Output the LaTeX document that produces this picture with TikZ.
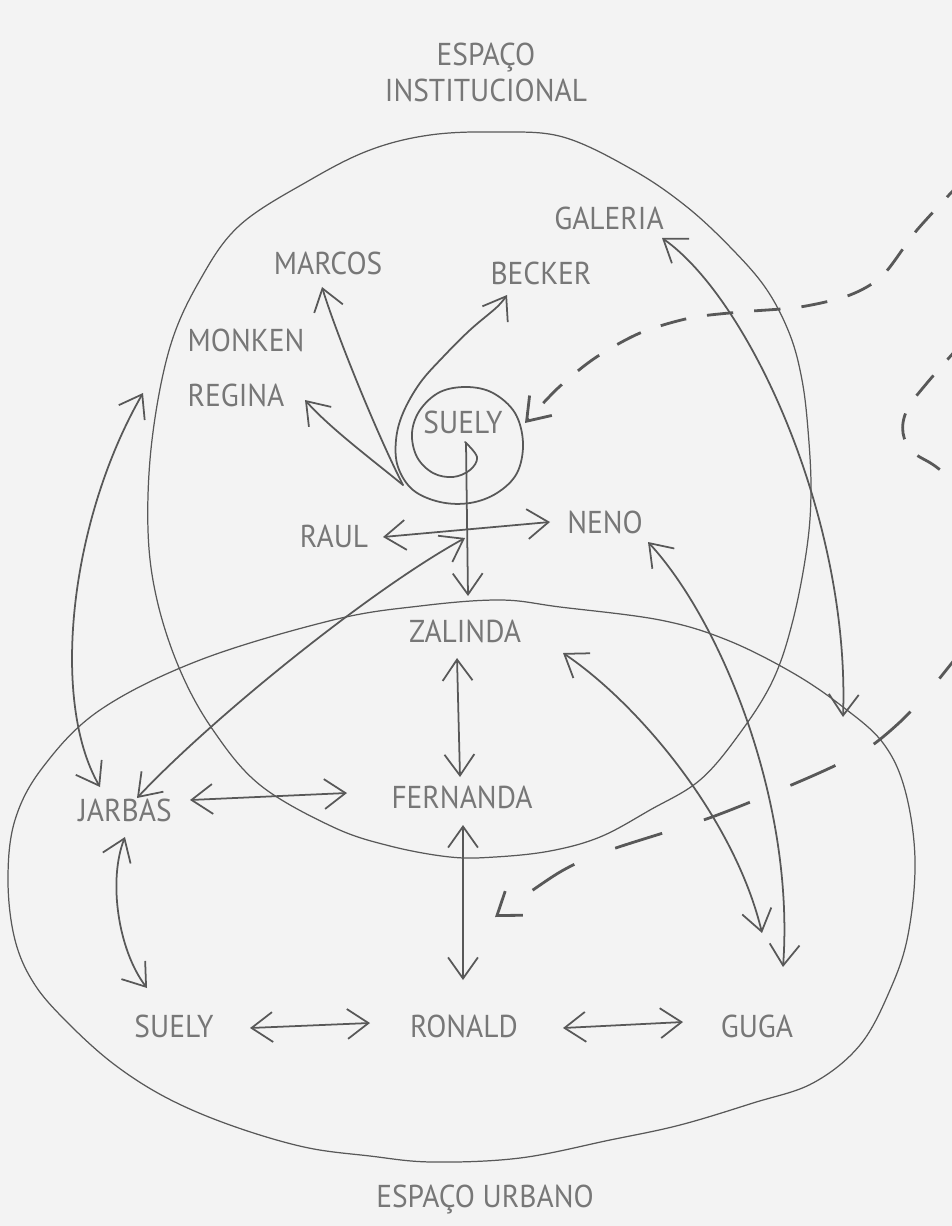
\documentclass[tikz,border=0pt]{standalone}
\usepackage{fontspec}
\setmainfont{PT Sans}
\usetikzlibrary{arrows.meta,calc}
\definecolor{bg}{HTML}{F3F3F3}
\definecolor{tc}{HTML}{777777}
\definecolor{lc}{HTML}{585858}
\newcommand\nm[1]{\scalebox{0.93}[1]{#1}}
\begin{document}
\begin{tikzpicture}[x=0.02cm, y=-0.02cm,
  lbl/.style={text=tc, inner sep=0pt, outer sep=0pt, font=\fontsize{18pt}{20.4pt}\selectfont, text height=12.5pt, text depth=0pt},
  lbltwo/.style={text=tc, inner sep=0pt, outer sep=0pt, font=\fontsize{18pt}{20.4pt}\selectfont, align=center},
  zone/.style={draw=lc, line width=0.7pt},
  link/.style={draw=lc, line width=1.0pt, line cap=round, line join=round},
  flow/.style={draw=lc, line width=1.6pt, dash pattern=on 15pt off 12pt},
  flowtwo/.style={draw=lc, line width=1.6pt, dash pattern=on 28pt off 25pt},
  >={Straight Barb[length=12pt,width=17pt]},
]
\useasboundingbox (0,0) rectangle (952,1226);
\fill[bg] (0,0) rectangle (952,1226);
\clip (0,0) rectangle (952,1226);

% labels
\node[lbltwo, anchor=north] (inst) at (486,43) {\nm{ESPAÇO}\\\nm{INSTITUCIONAL}};
\node[lbl] (galeria) at (609,219) {\nm{GALERIA}};
\node[lbl] (marcos) at (328,264) {\nm{MARCOS}};
\node[lbl] (becker) at (541,274) {\nm{BECKER}};
\node[lbl] (monken) at (246,341) {\nm{MONKEN}};
\node[lbl] (regina) at (236,396) {\nm{REGINA}};
\node[lbl] (suelyA) at (463,423) {\nm{SUELY}};
\node[lbl] (raul) at (334,537) {\nm{RAUL}};
\node[lbl] (neno) at (605,523) {\nm{NENO}};
\node[lbl] (zalinda) at (465,632) {\nm{ZALINDA}};
\node[lbl] (jarbas) at (125,811) {\nm{JARBAS}};
\node[lbl] (fernanda) at (462,798) {\nm{FERNANDA}};
\node[lbl] (suelyB) at (174,1027) {\nm{SUELY}};
\node[lbl] (ronald) at (464,1027) {\nm{RONALD}};
\node[lbl] (guga) at (757,1027) {\nm{GUGA}};
\node[lbl] (urbano) at (485,1197) {\nm{ESPAÇO URBANO}};

% zones
\draw[zone] plot[smooth cycle, tension=0.6] coordinates {(430,135) (497,132) (563,137) (633,170) (687,207) (733,250) (767,290) (790,335) (802,380) (808,430) (811,490) (807,547) (793,620) (773,680) (740,733) (700,780) (650,810) (600,837) (550,851) (495,857) (450,857) (390,846) (333,827) (260,785) (213,730) (180,670) (157,600) (148,530) (152,440) (170,347) (200,280) (240,225) (310,180) (370,150)};
\draw[zone] plot[smooth cycle, tension=0.6] coordinates {(500,600) (560,607) (660,620) (727,640) (793,673) (843,707) (883,743) (905,790) (915,860) (908,935) (890,990) (860,1045) (813,1083) (753,1103) (680,1125) (610,1140) (520,1158) (432,1162) (370,1156) (304,1147) (230,1125) (167,1098) (115,1065) (70,1025) (35,985) (15,940) (8,880) (15,820) (43,767) (100,710) (200,660) (333,620) (420,606)};

% spiral to Becker
\draw[link,->] plot[smooth, tension=0.6] coordinates {($(suelyA)+(2,19)$) (477,457) (470,470) (453,477) (433,473) (417,457) (412,433) (420,410) (440,392) (467,387) (493,393) (515,413) (523,443) (517,473) (497,493) (470,503) (440,502) (413,490) (398,467) (396,440) (403,413) (420,383) (443,357) (470,330) (497,307) ($(becker)+(-34,21)$)};
\draw[link,->] ($(suelyA)+(3,20)$) -- ($(zalinda)+(3,-36)$);
\draw[link,->] ($(suelyA)+(-60,62)$) .. controls (375,430) and (335,330) .. ($(marcos)+(-6,23)$);
\draw[link,->] ($(suelyA)+(-60,62)$) .. controls (370,458) and (330,428) .. ($(regina)+(69,4)$);
\draw[link,<->] ($(raul)+(49,0)$) -- ($(neno)+(-55,-1)$);
\draw[link,<->] ($(jarbas)+(12,-13)$) .. controls (210,720) and (370,590) .. ($(suelyA)+(2,115)$);
\coordinate (instE) at (143,393);
\draw[link,<->] ($(jarbas)+(-25,-24)$) .. controls (50,700) and (70,520) .. (instE);
\draw[link,<->] ($(jarbas)+(65,-11)$) -- ($(fernanda)+(-115,-5)$);
\draw[link,<->] ($(zalinda)+(-8,26)$) -- ($(fernanda)+(-2,-21)$);
\draw[link,<->] ($(fernanda)+(1,27)$) -- ($(ronald)+(-1,-47)$);
\draw[link,<->] ($(jarbas)+(0,26)$) .. controls (108,880) and (118,950) .. ($(suelyB)+(-27,-39)$);
\draw[link,<->] ($(suelyB)+(76,1)$) -- ($(ronald)+(-94,-4)$);
\draw[link,<->] ($(ronald)+(99,1)$) -- ($(guga)+(-74,-5)$);
\coordinate (urbE) at (843,717);
\draw[link,<->] ($(galeria)+(53,19)$) .. controls (750,300) and (850,520) .. (urbE);
\draw[link,<->] ($(zalinda)+(98,21)$) .. controls (640,705) and (735,820) .. ($(guga)+(5,-94)$);
\draw[link,<->] ($(neno)+(43,19)$) .. controls (720,620) and (795,800) .. ($(guga)+(26,-60)$);

% dashed flows
\coordinate (eastA) at (965,178);
\draw[flow,->] plot[smooth, tension=0.5] coordinates {(eastA) (917,230) (883,275) (850,295) (800,307) (740,312) (690,318) (640,333) (595,358) (558,388) ($(suelyA)+(62,0)$)};
\coordinate (eastB) at (965,340);
\draw[flow] plot[smooth, tension=0.6] coordinates {(eastB) (927,383) (907,410) (903,433) (913,452) (935,466) (965,490)};
\coordinate (eastC) at (970,640);
\draw[flowtwo,->] plot[smooth, tension=0.5] coordinates {(eastC) (930,690) (900,722) (865,750) (810,777) (712,817) (610,850) (560,872) ($(ronald)+(31,-110)$)};
\end{tikzpicture}
\end{document}
